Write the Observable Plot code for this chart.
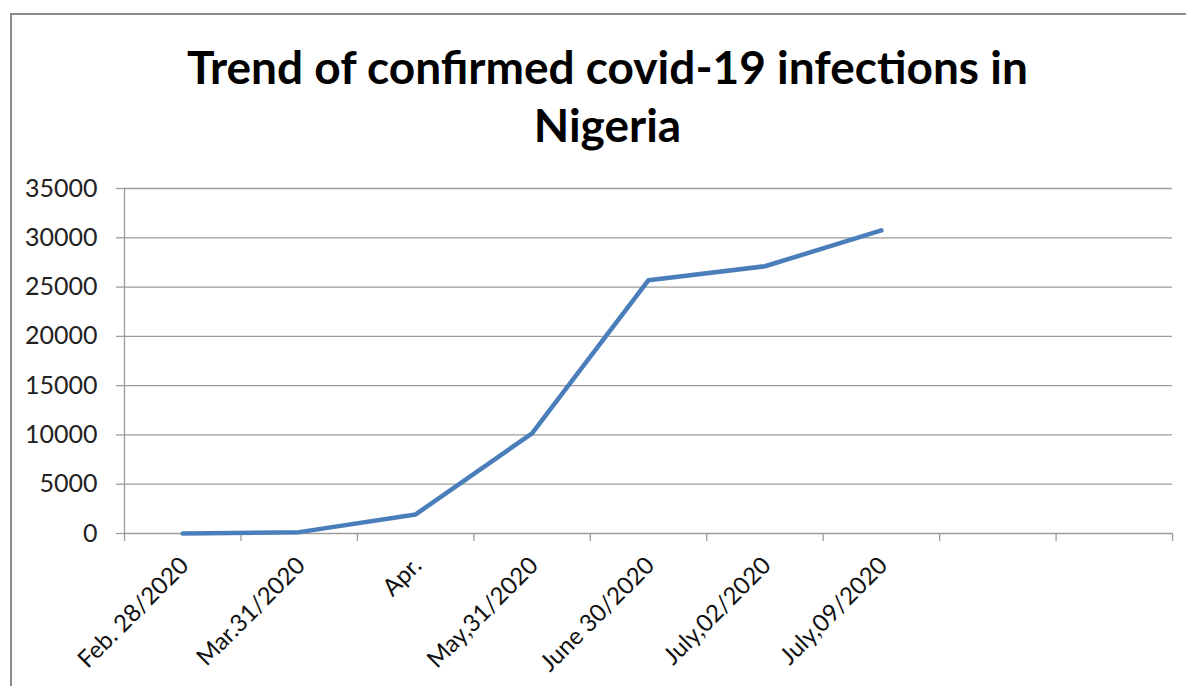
<!DOCTYPE html>
<html>
<head>
<meta charset="utf-8">
<script src="https://cdn.jsdelivr.net/npm/d3@7"></script>
<script src="https://cdn.jsdelivr.net/npm/@observablehq/plot@0.6"></script>
<style>
  html, body { margin: 0; padding: 0; background: #fff; }
  #wrap { position: relative; width: 1186px; height: 686px; overflow: hidden; }
  #border { position: absolute; left: 10px; top: 13px; width: 1300px; height: 800px;
            border-left: 2px solid #8c8c8c; border-top: 2px solid #8c8c8c; box-sizing: border-box; }
  #chart { position: absolute; left: 0; top: 0; }
</style>
</head>
<body>
<div id="wrap"><div id="border"></div><div id="chart"></div></div>
<script>
const title = ["Trend of confirmed covid-19 infections in", "Nigeria"];
const categories = ["Feb. 28/2020", "Mar.31/2020", "Apr.", "May,31/2020", "June 30/2020", "July,02/2020", "July,09/2020"];
const cases = [1, 139, 1932, 10162, 25694, 27110, 30748];
const slotCount = 9; // the category axis shows 9 slots, the last two empty
const yTicks = [0, 5000, 10000, 15000, 20000, 25000, 30000, 35000];

const data = categories.map((c, i) => ({category: c, index: i, value: cases[i]}));
const slotEdges = d3.range(slotCount + 1);

const grid = "#9c9c9c";
const chart = Plot.plot({
  width: 1186,
  height: 686,
  marginLeft: 124,
  marginRight: 14,
  marginTop: 188,
  marginBottom: 153,
  style: {background: "transparent", fontFamily: "Lato, 'Open Sans', sans-serif"},
  x: {type: "linear", domain: [0, slotCount], axis: null},
  y: {type: "linear", domain: [0, 35000], axis: null},
  marks: [
    Plot.gridY(yTicks, {stroke: grid, strokeOpacity: 1, strokeWidth: 1.3}),
    Plot.axisY(yTicks, {label: null, tickSize: 8, tickPadding: 19, stroke: grid, strokeWidth: 1.3, fontSize: 25, fill: "#222", tickFormat: d => String(d)}),
    Plot.ruleX([0], {stroke: grid, strokeWidth: 1.3}),
    Plot.axisX(slotEdges, {label: null, tickSize: 8, tickFormat: () => "", stroke: grid, strokeWidth: 1.3}),
    Plot.line(data, {x: d => d.index + 0.5, y: "value", stroke: "#4a7ebb", strokeWidth: 4.5, strokeLinejoin: "round", strokeLinecap: "round"}),
    Plot.text(data, {x: d => d.index + 0.5, text: "category", frameAnchor: "bottom", rotate: -45, textAnchor: "end", lineAnchor: "middle", dx: 2, dy: 28, fontSize: 24, fill: "#111"}),
    Plot.text([title[0]], {frameAnchor: "top", dx: -41, dy: -105, lineAnchor: "bottom", fontSize: 46, fontWeight: "bold", fill: "#000"}),
    Plot.text([title[1]], {frameAnchor: "top", dx: -41, dy: -47, lineAnchor: "bottom", fontSize: 46, fontWeight: "bold", fill: "#000"})
  ]
});
document.getElementById("chart").appendChild(chart);
</script>
</body>
</html>
